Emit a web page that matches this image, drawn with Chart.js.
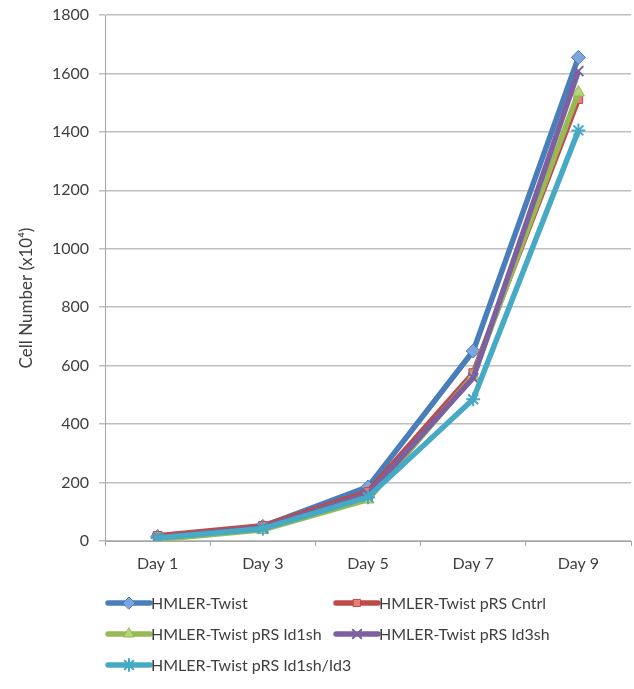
<!DOCTYPE html>
<html>
<head>
<meta charset="utf-8">
<script src="https://cdn.jsdelivr.net/npm/chart.js@4"></script>
<style>
  html, body { margin: 0; padding: 0; background: #fff; overflow: hidden; }
  #wrap { width: 640px; height: 689px; }
</style>
</head>
<body>
<div id="wrap"><canvas id="c" width="640" height="689"></canvas></div>
<script>
// Growth curves: cell number (x10^4) per day
const days = ['Day 1', 'Day 3', 'Day 5', 'Day 7', 'Day 9'];
const yTicks = [0, 200, 400, 600, 800, 1000, 1200, 1400, 1600, 1800];

const seriesNames = [
  'HMLER-Twist',
  'HMLER-Twist pRS Cntrl',
  'HMLER-Twist pRS Id1sh',
  'HMLER-Twist pRS Id3sh',
  'HMLER-Twist pRS Id1sh/Id3'
];
const twist      = [15, 50, 185, 650, 1655];
const cntrl      = [18, 52, 168, 575, 1512];
const id1sh      = [5, 38, 142, 565, 1535];
const id3sh      = [12, 46, 160, 558, 1608];
const id1shId3   = [10, 42, 150, 485, 1405];

const lineColors  = ['#4A7EBB', '#BE4B48', '#98B954', '#7D60A0', '#46AAC5'];
const pointFills  = ['#7EA6DC', '#E4817D', '#B5D37A', '#9C84BE', '#7CC8DC'];
const pointStyles = ['rectRot', 'rect', 'triangle', 'crossRot', 'star'];
const pointSizes  = [7, 6, 7, 7, 7];

const values = [twist, cntrl, id1sh, id3sh, id1shId3];

const datasets = values.map((v, i) => ({
  label: seriesNames[i],
  data: v,
  borderColor: lineColors[i],
  backgroundColor: pointFills[i],
  borderWidth: 5.5,
  pointStyle: pointStyles[i],
  pointRadius: pointSizes[i],
  pointBorderWidth: (pointStyles[i] === 'crossRot' || pointStyles[i] === 'star') ? 2 : 1,
  pointBorderColor: lineColors[i],
  pointBackgroundColor: pointFills[i],
  tension: 0,
  order: values.length - i   // later series sit on top
}));

const FONT = 'Lato, "Liberation Sans", sans-serif';
const TEXT = '#404040';

// Rotated y-axis caption
const axisCaption = {
  id: 'axisCaption',
  afterDraw(chart) {
    const ctx = chart.ctx;
    ctx.save();
    ctx.translate(27, 298);
    ctx.rotate(-Math.PI / 2);
    ctx.fillStyle = TEXT;
    ctx.font = '17px ' + FONT;
    ctx.textAlign = 'center';
    ctx.textBaseline = 'middle';
    ctx.fillText('Cell Number (x10\u2074)', 0, 0);
    ctx.restore();
  }
};

// Two-column legend with line + marker samples
const gridLegend = {
  id: 'gridLegend',
  afterDraw(chart) {
    const ctx = chart.ctx;
    const colX = [108, 336];
    const rowY = [603, 634, 665];
    const len = 42;
    chart.data.datasets.forEach((ds, i) => {
      const x = colX[i % 2];
      const y = rowY[Math.floor(i / 2)];
      ctx.save();
      ctx.strokeStyle = ds.borderColor;
      ctx.lineWidth = 5.5;
      ctx.lineCap = 'round';
      ctx.beginPath();
      ctx.moveTo(x, y);
      ctx.lineTo(x + len, y);
      ctx.stroke();
      ctx.fillStyle = ds.pointBackgroundColor;
      ctx.strokeStyle = ds.pointBorderColor;
      ctx.lineWidth = ds.pointBorderWidth;
      Chart.helpers.drawPoint(ctx, {
        pointStyle: ds.pointStyle,
        radius: ds.pointRadius - 1,
        rotation: 0,
        borderWidth: ds.pointBorderWidth
      }, x + len / 2, y);
      ctx.fillStyle = TEXT;
      ctx.font = '16px ' + FONT;
      ctx.textAlign = 'left';
      ctx.textBaseline = 'middle';
      ctx.fillText(ds.label, x + len + 1, y + 1);
      ctx.restore();
    });
  }
};

new Chart(document.getElementById('c'), {
  type: 'line',
  data: { labels: days, datasets },
  options: {
    responsive: false,
    animation: false,
    layout: { padding: { top: 15, right: 1, bottom: 110, left: 0 } },
    plugins: {
      legend: { display: false },
      tooltip: { enabled: false }
    },
    scales: {
      x: {
        offset: true,
        grid: {
          offset: true,
          drawOnChartArea: false,
          drawTicks: true,
          tickLength: 5,
          color: '#A6A6A6',
          lineWidth: 1
        },
        border: { color: '#A6A6A6', width: 1 },
        ticks: { color: TEXT, font: { family: FONT, size: 16 }, padding: 8 },
        afterFit(s) { s.height = 38; }
      },
      y: {
        min: 0,
        max: 1800,
        afterBuildTicks(s) { s.ticks = yTicks.map(v => ({ value: v })); },
        grid: { color: '#BFBFBF', lineWidth: 1.5, tickLength: 6 },
        border: { color: '#A6A6A6', width: 1 },
        ticks: {
          color: TEXT,
          font: { family: FONT, size: 16 },
          padding: 10,
          callback: v => String(v)
        },
        afterFit(s) {
          s.width = 105;
          s.paddingTop = 0;
          s.paddingBottom = 0;
        }
      }
    }
  },
  plugins: [axisCaption, gridLegend]
});
</script>
</body>
</html>
